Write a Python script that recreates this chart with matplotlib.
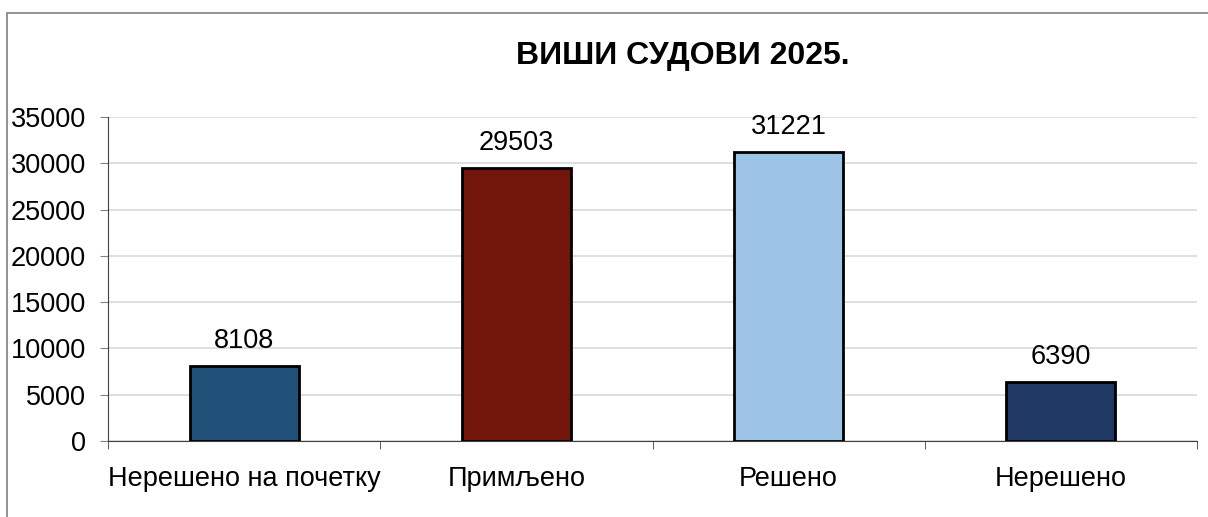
import matplotlib.pyplot as plt
from matplotlib.patches import Rectangle
import numpy as np

plt.rcParams['font.family'] = ['Liberation Sans', 'DejaVu Sans']

categories = ['Нерешено на почетку', 'Примљено', 'Решено', 'Нерешено']
values = [8108, 29503, 31221, 6390]
colors = ['#215078', '#72150b', '#9dc3e6', '#1f3864']
yticks = [0, 5000, 10000, 15000, 20000, 25000, 30000, 35000]

W, H = 1208, 517
fig = plt.figure(figsize=(W / 100, H / 100), dpi=100)
ax = fig.add_axes([108 / W, 1 - 441 / H, (1197 - 108) / W, (441 - 117) / H])

# outer chart border (runs off the right and bottom edges)
fig.patches.append(Rectangle((7 / W, -0.1), 1.2, 1 - 13 / H + 0.1,
                             transform=fig.transFigure, fill=False,
                             edgecolor='#808080', lw=1.2))

x = np.arange(len(categories))
ax.bar(x, values, width=0.4, color=colors, edgecolor='black', lw=2, zorder=3)
for xi, v in zip(x, values):
    ax.text(xi, v + 1300, str(v), ha='center', va='bottom', fontsize=19.5)

ax.set_xlim(-0.5, len(categories) - 0.5)
ax.set_ylim(0, 35000)
ax.set_yticks(yticks)
ax.set_yticklabels([str(t) for t in yticks], fontsize=19.5)
ax.yaxis.grid(True, color='#d9d9d9', lw=1.2, zorder=0)
ax.set_axisbelow(True)

# category labels centered, ticks at category boundaries
ax.set_xticks(x)
ax.set_xticklabels(categories, fontsize=19.5)
ax.tick_params(axis='x', length=0, pad=18)
ax.set_xticks(np.arange(len(categories) + 1) - 0.5, minor=True)
ax.tick_params(axis='x', which='minor', length=5.5, color='#404040')
ax.tick_params(axis='y', length=6, color='#808080', pad=10)

for s in ['top', 'right']:
    ax.spines[s].set_visible(False)
ax.spines['left'].set_color('#404040')
ax.spines['bottom'].set_color('#404040')

fig.text(683 / W, 1 - 56 / H, 'ВИШИ СУДОВИ 2025.', ha='center', va='center',
         fontsize=23, fontweight='bold')

fig.savefig('out.png', dpi=100)
